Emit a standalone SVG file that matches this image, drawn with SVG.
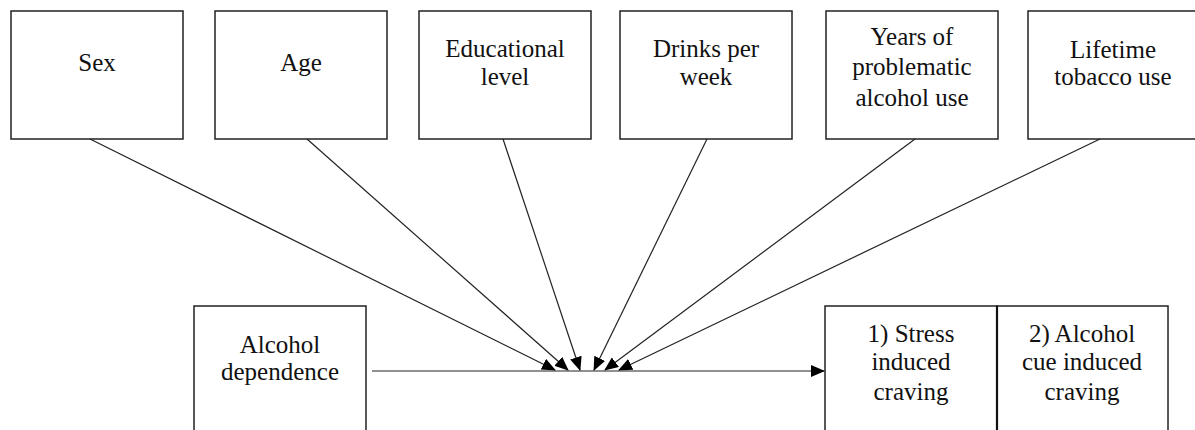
<svg xmlns="http://www.w3.org/2000/svg" width="1195" height="430" viewBox="0 0 1195 430">
<defs>
<marker id="ah" markerUnits="userSpaceOnUse" viewBox="0 0 14 12" markerWidth="14" markerHeight="12" refX="13" refY="6" orient="auto">
<path d="M0,0 L14,6 L0,12 z" fill="#000"/>
</marker>
</defs>
<rect width="1195" height="430" fill="#fff"/>
<g font-family="Liberation Serif, Times New Roman, serif" font-size="25" fill="#111" text-anchor="middle" stroke="none">
<g id="sex"><rect x="11" y="11" width="172" height="128" fill="#fff" stroke="#222" stroke-width="1.5"/><text x="97" y="71">Sex</text></g>
<g id="age"><rect x="215" y="11" width="172" height="128" fill="#fff" stroke="#222" stroke-width="1.5"/><text x="301" y="71">Age</text></g>
<g id="education"><rect x="419" y="11" width="172" height="128" fill="#fff" stroke="#222" stroke-width="1.5"/><text x="505" y="57">Educational</text><text x="505" y="85">level</text></g>
<g id="drinks"><rect x="620" y="11" width="172" height="128" fill="#fff" stroke="#222" stroke-width="1.5"/><text x="706" y="57">Drinks per</text><text x="706" y="85">week</text></g>
<g id="years"><rect x="826" y="11" width="172" height="128" fill="#fff" stroke="#222" stroke-width="1.5"/><text x="912" y="45">Years of</text><text x="912" y="75">problematic</text><text x="912" y="106">alcohol use</text></g>
<g id="tobacco"><rect x="1028" y="11" width="172" height="128" fill="#fff" stroke="#222" stroke-width="1.5"/><text x="1113" y="58">Lifetime</text><text x="1113" y="85">tobacco use</text></g>
<g id="dependence"><rect x="194" y="306" width="172" height="140" fill="#fff" stroke="#222" stroke-width="1.5"/><text x="280" y="353">Alcohol</text><text x="280" y="380">dependence</text></g>
<g id="stress"><rect x="825" y="306" width="172" height="140" fill="#fff" stroke="#222" stroke-width="1.5"/><text x="911" y="342">1) Stress</text><text x="911" y="370">induced</text><text x="911" y="400">craving</text></g>
<g id="cue"><rect x="997" y="306" width="171" height="140" fill="#fff" stroke="#222" stroke-width="1.5"/><line x1="997" y1="306" x2="997" y2="430" stroke="#111" stroke-width="2.2"/><text x="1082" y="342">2) Alcohol</text><text x="1082" y="370">cue induced</text><text x="1082" y="400">craving</text></g>
</g>
<g id="connectors" stroke="#222" stroke-width="1.2" fill="none" marker-end="url(#ah)">
<line x1="90" y1="139" x2="555" y2="370"/>
<line x1="307" y1="139" x2="568" y2="370"/>
<line x1="503" y1="139" x2="580" y2="370"/>
<line x1="707" y1="139" x2="594" y2="370"/>
<line x1="915" y1="139" x2="605" y2="370"/>
<line x1="1100" y1="139" x2="619" y2="370"/>
<line x1="372" y1="371" x2="824" y2="371"/>
</g>
</svg>
